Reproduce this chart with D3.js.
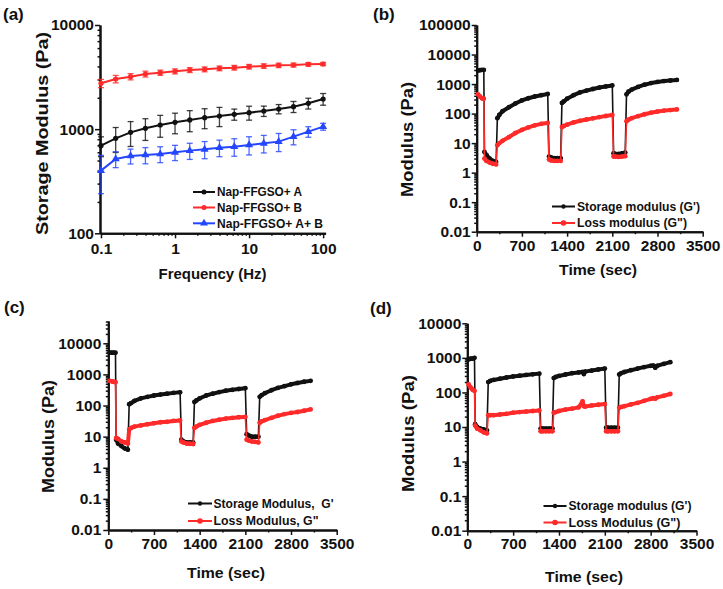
<!DOCTYPE html>
<html><head><meta charset="utf-8">
<script src="https://cdn.jsdelivr.net/npm/d3@7"></script>
<style>
body{margin:0;background:#fff}
svg{display:block}
text{font-family:"Liberation Sans",Arial,Helvetica,sans-serif;font-weight:bold;fill:#111;white-space:pre}
</style>
</head><body>
<svg id="chart" width="723" height="589"></svg>
<script>
// ---------- Panel (a): frequency sweep ----------
const freqHz = [0.1, 0.158, 0.251, 0.398, 0.631, 1, 1.58, 2.51, 3.98, 6.31, 10, 15.8, 25.1, 39.8, 63.1, 100];
const storageA    = [694, 817, 932, 1019, 1096, 1163, 1225, 1290, 1338, 1388, 1440, 1494, 1562, 1644, 1770, 1948];
const storageAErr = [150, 220, 250, 240, 260, 260, 280, 280, 280, 170, 220, 170, 160, 200, 210, 250];
const storageB    = [2754, 3031, 3192, 3385, 3486, 3590, 3698, 3752, 3837, 3894, 3981, 4041, 4101, 4130, 4193, 4224];
const storageBErr = [250, 250, 220, 220, 200, 200, 200, 200, 200, 200, 200, 200, 200, 180, 170, 150];
const storageAB    = [400, 517, 553, 565, 577, 599, 622, 640, 664, 679, 705, 731, 759, 847, 946, 1057];
const storageABErr = [160, 90, 90, 100, 100, 100, 110, 120, 120, 130, 140, 140, 150, 140, 110, 80];
const legendA = ["Nap-FFGSO+ A", "Nap-FFGSO+ B", "Nap-FFGSO+ A+ B"];

// ---------- Panel (b) ----------
const timeB = [20, 50, 80, 110, 120, 150, 200, 250, 300, 320, 350, 400, 500, 600, 700, 800, 900, 1000, 1100, 1120, 1150, 1200, 1250, 1300, 1320, 1350, 1400, 1500, 1600, 1700, 1800, 1900, 2000, 2100, 2120, 2150, 2200, 2250, 2300, 2320, 2350, 2400, 2500, 2600, 2700, 2800, 2900, 3000, 3100];
const storageModB = [2900, 2950, 3000, 3000, 5, 4, 3, 2.5, 2.3, 70, 90, 120, 165, 220, 280, 330, 380, 420, 460, 3.5, 3.3, 3.1, 3.1, 3.1, 230, 260, 320, 420, 520, 600, 680, 760, 830, 900, 4.5, 4.3, 4.3, 4.5, 4.8, 450, 550, 650, 800, 950, 1080, 1180, 1260, 1320, 1380];
const lossModB    = [450, 380, 330, 320, 3, 2.5, 2.2, 2, 1.9, 8.5, 10, 12, 16, 22, 28, 34, 40, 45, 48, 2.8, 2.6, 2.5, 2.5, 2.5, 35, 38, 42, 50, 57, 63, 69, 76, 83, 90, 3.5, 3.5, 3.4, 3.5, 3.6, 55, 62, 70, 82, 95, 107, 117, 126, 132, 138];
const legendB = ["Storage modulus (G')", "Loss modulus (G\")"];

// ---------- Panel (c) ----------
const timeC = [20, 50, 80, 110, 120, 150, 200, 250, 300, 320, 350, 400, 500, 600, 700, 800, 900, 1000, 1100, 1120, 1150, 1200, 1250, 1300, 1320, 1350, 1400, 1500, 1600, 1700, 1800, 1900, 2000, 2100, 2120, 2150, 2200, 2250, 2300, 2320, 2350, 2400, 2500, 2600, 2700, 2800, 2900, 3000, 3100];
const storageModC = [5000, 5000, 5000, 5000, 8, 6, 5, 4.2, 3.8, 110, 120, 140, 170, 190, 210, 225, 240, 255, 265, 8, 7, 6.5, 6.5, 6.5, 130, 145, 170, 210, 240, 270, 300, 320, 340, 360, 12, 11, 10, 10, 10, 190, 215, 250, 310, 370, 420, 480, 530, 580, 620];
const lossModC    = [620, 600, 580, 560, 9, 8.5, 7, 6.5, 6, 17, 19, 21, 23, 25, 27, 29, 30, 32, 33, 7, 6.5, 6, 5.9, 5.8, 19, 21, 24, 28, 32, 35, 38, 40, 42, 43, 8, 7.5, 7, 6.8, 6.5, 28, 31, 34, 40, 47, 53, 58, 62, 68, 75];
const legendC = ["Storage Modulus,  G'", "Loss Modulus, G\""];

// ---------- Panel (d) ----------
const timeD = [20, 50, 80, 110, 120, 150, 200, 250, 300, 320, 350, 400, 500, 600, 700, 800, 900, 1000, 1100, 1120, 1150, 1200, 1250, 1300, 1320, 1350, 1400, 1500, 1600, 1700, 1760, 1780, 1800, 1900, 2000, 2100, 2120, 2150, 2200, 2250, 2300, 2320, 2350, 2400, 2500, 2600, 2700, 2800, 2840, 2870, 2900, 3000, 3100];
const storageModD = [900, 950, 950, 1000, 12, 10, 9, 8.5, 8, 200, 215, 230, 250, 270, 290, 305, 320, 335, 350, 9, 9, 9, 9, 9, 260, 280, 300, 330, 360, 380, 390, 340, 400, 430, 460, 490, 9.5, 9.5, 9.5, 9.5, 9.5, 330, 360, 390, 440, 490, 540, 590, 600, 520, 590, 670, 750];
const lossModD    = [170, 140, 120, 110, 11, 9, 8, 7, 6.5, 22, 22, 22, 23, 24, 26, 27, 28, 29, 30, 7.5, 7.5, 7.5, 7.5, 7.5, 26, 27, 29, 32, 34, 37, 55, 40, 39, 42, 44, 46, 7.5, 7.5, 7.5, 7.5, 7.5, 36, 38, 40, 45, 50, 57, 65, 68, 66, 72, 80, 90];
const legendD = ["Storage modulus (G')", "Loss Modulus (G\")"];

const logTickLabels = [0.01, 0.1, 1, 10, 100, 1000, 10000, 100000];
const timeTicks = [0, 700, 1400, 2100, 2800, 3500];
const freqTicks = [0.1, 1, 10, 100];

const BLACK = "#111", RED = "#ff2a2a", BLUE = "#2446ff";
const svg = d3.select("#chart");

function minorLog(lo, hi) {
  const out = [];
  for (let e = Math.floor(Math.log10(lo)) - 1; e <= Math.ceil(Math.log10(hi)); e++)
    for (let m = 2; m < 10; m++) {
      const v = m * Math.pow(10, e);
      if (v >= lo * 0.999 && v <= hi * 1.001) out.push(v);
    }
  return out;
}
function styleAxis(g) {
  g.select(".domain").attr("stroke", BLACK).attr("stroke-width", 2);
  g.selectAll(".tick line").attr("stroke", BLACK).attr("stroke-width", 1.5);
  g.selectAll("text").attr("font-size", 15.5).attr("fill", BLACK);
}
const fmt = v => String(v);

function axes(p) {
  const gm = svg.append("g").attr("transform", `translate(${p.x0},0)`)
    .call(d3.axisLeft(p.y).tickValues(minorLog(p.y.domain()[0], p.y.domain()[1])).tickSize(2.5).tickFormat("").tickSizeOuter(0));
  styleAxis(gm);
  const gy = svg.append("g").attr("transform", `translate(${p.x0},0)`)
    .call(d3.axisLeft(p.y).tickValues(p.yMajor).tickSize(5).tickPadding(p.yPad).tickFormat(fmt).tickSizeOuter(0));
  styleAxis(gy);
  if (p.xMinor) {
    const gxm = svg.append("g").attr("transform", `translate(0,${p.y0})`)
      .call(d3.axisBottom(p.x).tickValues(p.xMinor).tickSize(2.5).tickFormat("").tickSizeOuter(0));
    styleAxis(gxm);
  }
  const gx = svg.append("g").attr("transform", `translate(0,${p.y0})`)
    .call(d3.axisBottom(p.x).tickValues(p.xMajor).tickSize(5).tickPadding(p.xPad).tickFormat(fmt).tickSizeOuter(0));
  styleAxis(gx);
  svg.append("text").attr("transform", `translate(${p.yt[0]},${p.yt[1]}) rotate(-90)`)
    .attr("text-anchor", "middle").attr("dy", "0.35em").attr("font-size", 17)
    .attr("textLength", p.yt[2]).attr("lengthAdjust", "spacingAndGlyphs").text(p.yTitle);
  svg.append("text").attr("x", p.xt[0]).attr("y", p.xt[1])
    .attr("text-anchor", "middle").attr("dy", "0.35em").attr("font-size", 15.5)
    .attr("textLength", p.xt[2]).attr("lengthAdjust", "spacingAndGlyphs").text(p.xTitle);
  svg.append("text").attr("x", p.lab[0]).attr("y", p.lab[1]).attr("font-size", 17).text(p.label);
}

function legend(items, lx0, lx1, tx, ys) {
  items.forEach((it, i) => {
    svg.append("line").attr("x1", lx0).attr("x2", lx1).attr("y1", ys[i]).attr("y2", ys[i])
      .attr("stroke", it.color).attr("stroke-width", 2);
    marker(svg, (lx0 + lx1) / 2, ys[i], it.shape, it.color, it.r || 2.5);
    svg.append("text").attr("x", tx).attr("y", ys[i]).attr("dy", "0.35em").attr("font-size", 12)
      .attr("textLength", it.w).attr("lengthAdjust", "spacingAndGlyphs").text(it.text);
  });
}
function marker(g, cx, cy, shape, color, r) {
  if (shape === "tri") {
    g.append("path").attr("d", d3.symbol(d3.symbolTriangle, 28)()).attr("transform", `translate(${cx},${cy})`).attr("fill", color);
  } else {
    g.append("circle").attr("cx", cx).attr("cy", cy).attr("r", r).attr("fill", color);
  }
}

// ================= Panel (a) =================
{
  const x = d3.scaleLog().domain([0.097, 108]).range([100, 325.6]);
  const y = d3.scaleLog().domain([100, 10000]).range([233.3, 25]);
  const xMinor = minorLog(0.097, 108);
  axes({x, y, x0: 100, y0: 233.3, yMajor: [100, 1000, 10000], yPad: 1, xMajor: freqTicks, xMinor, xPad: 5,
        yTitle: "Storage Modulus (Pa)", yt: [42, 133.5, 203], xTitle: "Frequency (Hz)", xt: [212.5, 274, 108],
        label: "(a)", lab: [3, 20]});
  const series = [
    {v: storageA, e: storageAErr, c: BLACK, s: "circ"},
    {v: storageB, e: storageBErr, c: RED, s: "circ"},
    {v: storageAB, e: storageABErr, c: BLUE, s: "tri"}
  ];
  const g = svg.append("g");
  series.forEach(S => {
    freqHz.forEach((f, i) => {
      const cx = x(f), top = y(S.v[i] + S.e[i]), bot = y(Math.max(S.v[i] - S.e[i], 101));
      g.append("line").attr("x1", cx).attr("x2", cx).attr("y1", top).attr("y2", bot).attr("stroke", S.c).attr("stroke-width", 1.3).attr("opacity", 0.8);
      g.append("line").attr("x1", cx - 3).attr("x2", cx + 3).attr("y1", top).attr("y2", top).attr("stroke", S.c).attr("stroke-width", 1.3).attr("opacity", 0.8);
      g.append("line").attr("x1", cx - 3).attr("x2", cx + 3).attr("y1", bot).attr("y2", bot).attr("stroke", S.c).attr("stroke-width", 1.3).attr("opacity", 0.8);
    });
    const line = d3.line().x((d, i) => x(freqHz[i])).y(d => y(d));
    g.append("path").attr("d", line(S.v)).attr("fill", "none").attr("stroke", S.c).attr("stroke-width", 2);
    S.v.forEach((v, i) => marker(g, x(freqHz[i]), y(v), S.s, S.c, 2.6));
  });
  legend([
    {text: legendA[0], color: BLACK, shape: "circ", w: 85},
    {text: legendA[1], color: RED, shape: "circ", w: 85},
    {text: legendA[2], color: BLUE, shape: "tri", w: 106}
  ], 193, 215, 217, [192, 207.5, 223.3]);
}

// ================= time sweep panels =================
function timePanel(cfg) {
  const x = d3.scaleLinear().domain([0, 3500]).range([cfg.x0, cfg.x1]);
  const y = d3.scaleLog().domain(cfg.yDom).range([cfg.y0, cfg.y1]);
  axes({x, y, x0: cfg.x0, y0: cfg.y0, yMajor: logTickLabels.filter(v => v <= cfg.yDom[1] * 1.001), yPad: cfg.yPad,
        xMajor: timeTicks, xMinor: [350, 1050, 1750, 2450, 3150], xPad: cfg.xPad,
        yTitle: "Modulus (Pa)", yt: cfg.yt, xTitle: "Time (sec)", xt: cfg.xt, label: cfg.label, lab: cfg.lab});
  const g = svg.append("g");
  [[cfg.storage, BLACK], [cfg.loss, RED]].forEach(([vals, col]) => {
    const line = d3.line().x((d, i) => x(cfg.time[i])).y(d => y(d));
    g.append("path").attr("d", line(vals)).attr("fill", "none").attr("stroke", col).attr("stroke-width", 1.6);
    vals.forEach((v, i) => {
      if (i > 0) {
        const ratio = Math.abs(Math.log10(v / vals[i - 1]));
        if (ratio < 0.5) g.append("line").attr("x1", x(cfg.time[i - 1])).attr("x2", x(cfg.time[i]))
          .attr("y1", y(vals[i - 1])).attr("y2", y(v)).attr("stroke", col).attr("stroke-width", 4).attr("stroke-linecap", "round");
      }
      g.append("circle").attr("cx", x(cfg.time[i])).attr("cy", y(v)).attr("r", 2.4).attr("fill", col);
    });
  });
  legend([
    {text: cfg.legend[0], color: BLACK, shape: "circ", w: cfg.lw[0], r: 2.2},
    {text: cfg.legend[1], color: RED, shape: "circ", w: cfg.lw[1], r: 2.8}
  ], cfg.lg[0], cfg.lg[1], cfg.lg[2], cfg.lg[3]);
}

timePanel({time: timeB, storage: storageModB, loss: lossModB, legend: legendB,
  x0: 476.7, x1: 702.7, y0: 231.7, y1: 25, yDom: [0.01, 100000], yPad: 1, xPad: 3,
  yt: [406.7, 139.5, 115], xt: [598, 270, 78], label: "(b)", lab: [373, 20],
  lw: [123, 110], lg: [552, 575, 577, [206.5, 223]]});

timePanel({time: timeC, storage: storageModC, loss: lossModC, legend: legendC,
  x0: 108.3, x1: 336.7, y0: 530, y1: 321, yDom: [0.01, 52000], yPad: 2, xPad: 3,
  yt: [48, 436.5, 113], xt: [226, 573, 78], label: "(c)", lab: [4, 313],
  lw: [120, 105], lg: [188, 212, 213.5, [503.5, 521]]});

timePanel({time: timeD, storage: storageModD, loss: lossModD, legend: legendD,
  x0: 467.3, x1: 696.5, y0: 530.7, y1: 323.3, yDom: [0.01, 10000], yPad: 1, xPad: 2.5,
  yt: [408, 433.5, 117], xt: [584, 577, 78], label: "(d)", lab: [370, 314],
  lw: [123, 112], lg: [543.5, 566.5, 568.5, [506, 522.5]]});
</script>
</body></html>
